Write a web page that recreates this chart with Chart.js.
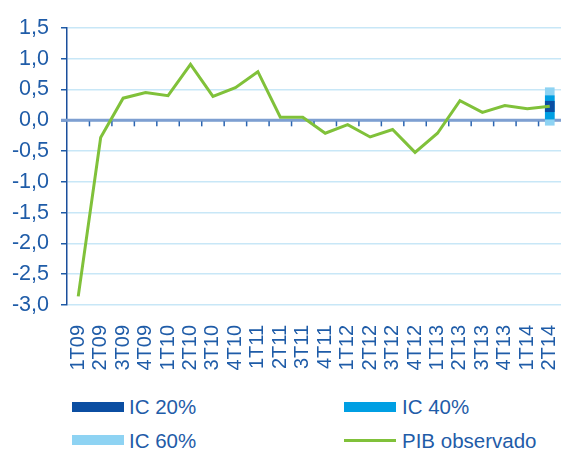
<!DOCTYPE html>
<html>
<head>
<meta charset="utf-8">
<script src="https://cdn.jsdelivr.net/npm/chart.js@4"></script>
<style>
  body { margin: 0; background: #fff; font-family: "Liberation Sans", Arial, sans-serif; }
  #wrap { position: relative; width: 561px; height: 450px; }
  #chart { position: absolute; left: 0; top: 0; }
  .leg { position: absolute; color: #1f5ca8; font-size: 20.5px; line-height: 20px; }
  .sw { position: absolute; width: 52px; height: 10px; }
</style>
</head>
<body>
<div id="wrap">
  <canvas id="chart" width="561" height="380"></canvas>
  <div class="sw" style="left:72px;top:402px;background:#0b4ea2"></div>
  <div class="leg" style="left:129px;top:397px">IC 20%</div>
  <div class="sw" style="left:344px;top:402px;background:#009fe3"></div>
  <div class="leg" style="left:402px;top:397px">IC 40%</div>
  <div class="sw" style="left:72px;top:435px;background:#8ed3f3"></div>
  <div class="leg" style="left:129px;top:431px">IC 60%</div>
  <div class="sw" style="left:344px;top:439px;height:3px;background:#80c13a"></div>
  <div class="leg" style="left:402px;top:431px">PIB observado</div>
</div>
<script>
var quarters = ['1T09', '2T09', '3T09', '4T09', '1T10', '2T10', '3T10', '4T10', '1T11', '2T11', '3T11',
  '4T11', '1T12', '2T12', '3T12', '4T12', '1T13', '2T13', '3T13', '4T13', '1T14', '2T14'];
var pibObservado = [-2.86, -0.28, 0.36, 0.45, 0.40, 0.91, 0.39, 0.53, 0.79, 0.05, 0.05,
  -0.21, -0.07, -0.27, -0.15, -0.52, -0.21, 0.32, 0.13, 0.24, 0.19, 0.23];
// intervalos de confianza, solo en el ultimo trimestre
var ic20 = [0.14, 0.31];
var ic40 = [0.02, 0.40];
var ic60 = [-0.08, 0.53];
var yTicks = [-3, -2.5, -2, -1.5, -1, -0.5, 0, 0.5, 1, 1.5];

function lastOnly(range) {
  return quarters.map(function (q, i) { return i === quarters.length - 1 ? range : null; });
}

var azul = '#1f5ca8';
var ejeCero = '#7e9fd1';

// linea del cero y marcas de categoria colgando por debajo
var zeroLine = {
  id: 'zeroLine',
  beforeDatasetsDraw: function (chart) {
    var c = chart.ctx, x = chart.scales.x, y = chart.scales.y;
    var y0 = y.getPixelForValue(0);
    c.save();
    c.strokeStyle = ejeCero;
    c.lineWidth = 3;
    c.beginPath();
    c.moveTo(chart.chartArea.left - 6, y0);
    c.lineTo(chart.chartArea.right, y0);
    c.stroke();
    c.lineWidth = 1.5;
    c.strokeStyle = '#2a64b0';
    for (var i = 1; i < quarters.length; i++) {
      var px = (x.getPixelForValue(i - 1) + x.getPixelForValue(i)) / 2;
      c.beginPath();
      c.moveTo(px, y0 + 1);
      c.lineTo(px, y0 + 6);
      c.stroke();
    }
    c.restore();
  }
};

new Chart(document.getElementById('chart').getContext('2d'), {
  type: 'bar',
  data: {
    labels: quarters,
    datasets: [
      { type: 'line', label: 'PIB observado', data: pibObservado, borderColor: '#80c13a', borderWidth: 3,
        pointRadius: 0, tension: 0, order: 0 },
      { label: 'IC 20%', data: lastOnly(ic20), backgroundColor: '#0b4ea2', barThickness: 9, grouped: false, order: 1 },
      { label: 'IC 40%', data: lastOnly(ic40), backgroundColor: '#009fe3', barThickness: 9, grouped: false, order: 2 },
      { label: 'IC 60%', data: lastOnly(ic60), backgroundColor: '#8ed3f3', barThickness: 9, grouped: false, order: 3 }
    ]
  },
  plugins: [zeroLine],
  options: {
    responsive: false,
    animation: false,
    layout: { padding: { top: 28, right: 0, left: 0, bottom: 0 } },
    plugins: { legend: { display: false }, tooltip: { enabled: false } },
    scales: {
      x: {
        offset: true,
        grid: { display: false },
        border: { display: false },
        ticks: { color: azul, font: { family: 'Liberation Sans', size: 20 }, minRotation: 90, maxRotation: 90,
          padding: 12, autoSkip: false },
        afterFit: function (s) { s.height = 75; s.paddingLeft = 0; s.paddingRight = 0; }
      },
      y: {
        min: -3, max: 1.5,
        afterBuildTicks: function (s) { s.ticks = yTicks.map(function (v) { return { value: v }; }); },
        grid: { color: '#c8e7f7', lineWidth: 1.5, tickColor: '#1f5ca8', tickLength: 6 },
        border: { color: '#1b4f9c', width: 1.5 },
        ticks: { color: azul, font: { family: 'Liberation Sans', size: 21.5 }, padding: 12,
          callback: function (v) { return v.toFixed(1).replace('.', ','); } },
        afterFit: function (s) { s.width = 67; }
      }
    }
  }
});
</script>
</body>
</html>
